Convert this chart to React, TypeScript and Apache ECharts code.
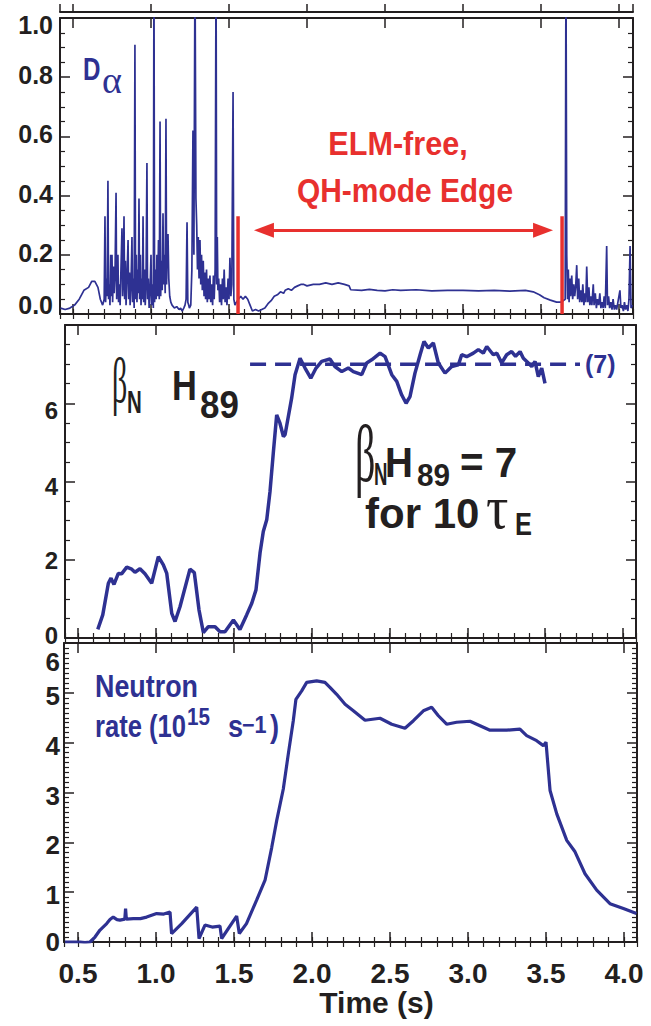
import React, { useEffect, useRef } from "react";
import * as echarts from "echarts";

type Pt = [number, number];

const BLUE = "#2E3192";
const RED = "#E8302E";
const INK = "#231F20";
const SANS = "'Liberation Sans', Arial, Helvetica, sans-serif";
const SERIF = "'Liberation Serif', 'Times New Roman', serif";

// ---------- data (time in s) ----------
const dAlpha: Pt[] = [
  [0.42,0.02],[0.45,0.015],[0.48,0.02],[0.51,0.03],[0.54,0.05],[0.57,0.08],[0.60,0.09],[0.62,0.11],[0.64,0.11],[0.66,0.09],[0.675,0.05],[0.69,0.03],[0.700,0.05],[0.705,0.33],[0.709,0.04],[0.714,0.12],[0.719,0.06],[0.724,0.45],[0.728,0.05],[0.733,0.1],[0.737,0.03],[0.742,0.2],[0.746,0.06],[0.750,0.2],[0.754,0.04],[0.759,0.16],[0.764,0.07],[0.769,0.12],[0.776,0.41],[0.780,0.05],[0.784,0.15],[0.788,0.2],[0.792,0.04],[0.797,0.1],[0.802,0.03],[0.807,0.14],[0.814,0.29],[0.818,0.06],[0.822,0.12],[0.827,0.33],[0.831,0.05],[0.836,0.18],[0.840,0.03],[0.846,0.12],[0.853,0.25],[0.857,0.05],[0.862,0.14],[0.866,0.03],[0.872,0.1],[0.878,0.26],[0.882,0.04],[0.887,0.12],[0.892,0.02],[0.897,0.91],[0.901,0.05],[0.906,0.2],[0.910,0.04],[0.915,0.15],[0.919,0.07],[0.923,0.39],[0.927,0.05],[0.932,0.2],[0.936,0.03],[0.941,0.12],[0.945,0.05],[0.949,0.33],[0.953,0.04],[0.958,0.15],[0.963,0.03],[0.968,0.1],[0.974,0.51],[0.978,0.05],[0.983,0.12],[0.988,0.02],[0.994,0.08],[1.000,0.2],[1.004,0.03],[1.010,0.1],[1.015,0.02],[1.019,1.2],[1.023,0.04],[1.028,0.15],[1.033,0.05],[1.038,0.2],[1.043,0.06],[1.048,0.25],[1.053,0.05],[1.058,0.65],[1.062,0.06],[1.067,0.18],[1.072,0.08],[1.077,0.34],[1.081,0.1],[1.086,0.2],[1.091,0.07],[1.096,0.66],[1.100,0.1],[1.104,0.22],[1.109,0.27],[1.114,0.12],[1.120,0.06],[1.127,0.04],[1.135,0.03],[1.15,0.02],[1.165,0.025],[1.18,0.015],[1.19,0.02],[1.20,0.01],[1.21,0.02],[1.218,0.03],[1.225,0.05],[1.231,0.31],[1.236,0.04],[1.242,0.03],[1.246,0.02],[1.25,0.02],[1.255,0.03],[1.262,0.15],[1.269,0.62],[1.275,0.2],[1.282,1.2],[1.288,0.39],[1.293,0.3],[1.298,0.15],[1.303,0.26],[1.308,0.12],[1.314,0.25],[1.319,0.1],[1.324,0.2],[1.329,0.08],[1.335,0.18],[1.34,0.06],[1.345,0.14],[1.35,0.05],[1.356,0.15],[1.361,0.04],[1.367,0.12],[1.372,0.05],[1.378,0.13],[1.383,0.04],[1.389,0.1],[1.395,0.03],[1.40,0.13],[1.405,0.05],[1.411,0.15],[1.417,1.2],[1.421,0.1],[1.425,0.26],[1.429,0.08],[1.434,0.12],[1.44,0.04],[1.446,0.1],[1.452,0.03],[1.458,0.12],[1.463,0.05],[1.469,0.15],[1.475,0.04],[1.481,0.09],[1.487,0.03],[1.494,0.12],[1.5,0.05],[1.506,0.19],[1.512,0.06],[1.518,0.1],[1.526,0.75],[1.531,0.05],[1.538,0.03],[1.548,0.04],[1.56,0.05],[1.575,0.06],[1.59,0.05],[1.605,0.06],[1.62,0.05],[1.635,0.03],[1.65,0.01],[1.67,0.015],[1.69,0.01],[1.71,0.015],[1.73,0.02],[1.75,0.035],[1.77,0.045],[1.79,0.06],[1.81,0.065],[1.83,0.075],[1.85,0.07],[1.86,0.08],[1.88,0.085],[1.9,0.08],[1.92,0.09],[1.94,0.095],[1.96,0.1],[1.98,0.1],[2.0,0.095],[2.04,0.1],[2.08,0.1],[2.12,0.105],[2.16,0.1],[2.2,0.105],[2.24,0.1],[2.27,0.095],[2.28,0.082],[2.35,0.08],[2.4,0.083],[2.45,0.08],[2.5,0.078],[2.55,0.082],[2.6,0.08],[2.7,0.082],[2.8,0.078],[2.9,0.08],[3.0,0.08],[3.1,0.078],[3.2,0.08],[3.3,0.077],[3.4,0.08],[3.45,0.075],[3.49,0.065],[3.52,0.055],[3.56,0.047],[3.6,0.04],[3.63,0.04],[3.655,0.05],[3.66,1.2],[3.665,0.2],[3.67,0.05],[3.675,0.15],[3.68,0.04],[3.685,0.12],[3.69,0.06],[3.697,0.13],[3.703,0.05],[3.71,0.1],[3.716,0.06],[3.722,0.09],[3.729,0.165],[3.735,0.05],[3.742,0.12],[3.748,0.04],[3.755,0.08],[3.762,0.04],[3.768,0.1],[3.775,0.03],[3.781,0.07],[3.787,0.04],[3.793,0.16],[3.8,0.04],[3.807,0.09],[3.813,0.03],[3.82,0.06],[3.826,0.03],[3.835,0.1],[3.84,0.03],[3.848,0.07],[3.855,0.02],[3.862,0.05],[3.87,0.03],[3.877,0.07],[3.884,0.02],[3.89,0.04],[3.898,0.02],[3.905,0.06],[3.912,0.02],[3.921,0.23],[3.926,0.03],[3.933,0.06],[3.94,0.02],[3.948,0.04],[3.955,0.015],[3.962,0.05],[3.97,0.015],[3.978,0.03],[3.985,0.015],[3.993,0.04],[4.006,0.08],[4.012,0.02],[4.02,0.03],[4.028,0.01],[4.035,0.04],[4.042,0.015],[4.05,0.03],[4.057,0.01],[4.064,0.05],[4.071,0.23],[4.077,0.02],[4.085,0.03]
];

const elmFreeStartMark: Pt[] = [[1.558, 0], [1.558, 0.33]];
const elmFreeEndMark: Pt[] = [[3.635, 0], [3.635, 0.33]];
const elmFreeArrow: Pt[] = [[1.724, 0.283], [3.513, 0.283]];

const betaNH89: Pt[] = [
  [0.627,0.22],[0.659,0.59],[0.695,1.4],[0.712,1.53],[0.731,1.37],[0.759,1.65],[0.78,1.64],[0.813,1.81],[0.845,1.76],[0.866,1.68],[0.898,1.77],[0.93,1.64],[0.973,1.4],[1.016,2.08],[1.048,1.87],[1.07,1.65],[1.102,0.63],[1.123,0.42],[1.155,0.8],[1.219,1.76],[1.247,1.67],[1.277,0.72],[1.305,0.14],[1.337,0.29],[1.38,0.29],[1.412,0.16],[1.444,0.16],[1.498,0.46],[1.54,0.22],[1.583,0.59],[1.616,0.89],[1.643,1.23],[1.669,2.17],[1.69,2.72],[1.712,3.02],[1.733,3.74],[1.754,4.72],[1.776,5.70],[1.797,5.49],[1.819,5.15],[1.83,5.2],[1.872,6.13],[1.894,6.73],[1.926,7.15],[1.958,6.9],[1.995,6.64],[2.029,6.9],[2.065,7.07],[2.118,7.13],[2.15,6.94],[2.194,6.81],[2.236,6.9],[2.268,6.81],[2.322,6.73],[2.354,7.03],[2.386,7.11],[2.44,7.28],[2.472,7.19],[2.515,6.73],[2.547,6.56],[2.579,6.21],[2.607,6.0],[2.632,6.17],[2.664,6.77],[2.697,7.24],[2.722,7.58],[2.75,7.41],[2.782,7.54],[2.814,7.03],[2.857,6.77],[2.9,6.94],[2.943,6.98],[2.964,7.24],[2.996,7.19],[3.039,7.28],[3.071,7.37],[3.103,7.28],[3.125,7.45],[3.167,7.24],[3.19,7.28],[3.221,7.03],[3.253,7.24],[3.285,7.32],[3.31,7.2],[3.339,7.32],[3.36,7.15],[3.392,7.03],[3.414,6.94],[3.435,7.07],[3.456,6.68],[3.478,6.9],[3.499,6.51]
];
const betaTarget: Pt[] = [[1.605, 7], [3.724, 7]];

const neutronRate: Pt[] = [
  [0.417,0.0],[0.513,0.0],[0.545,-0.01],[0.577,0.0],[0.609,0.1],[0.641,0.24],[0.684,0.37],[0.705,0.45],[0.726,0.5],[0.75,0.45],[0.769,0.44],[0.80,0.46],[0.805,0.67],[0.81,0.46],[0.855,0.47],[0.9,0.47],[0.94,0.5],[1.004,0.57],[1.05,0.56],[1.09,0.6],[1.10,0.17],[1.165,0.37],[1.261,0.7],[1.276,0.07],[1.314,0.34],[1.36,0.3],[1.41,0.32],[1.421,0.07],[1.517,0.52],[1.534,0.17],[1.58,0.37],[1.645,0.84],[1.699,1.24],[1.742,1.9],[1.774,2.44],[1.816,3.07],[1.848,3.77],[1.88,4.44],[1.897,4.87],[1.934,5.04],[1.966,5.21],[2.03,5.24],[2.083,5.21],[2.115,5.11],[2.158,4.97],[2.212,4.77],[2.265,4.64],[2.34,4.45],[2.436,4.49],[2.511,4.37],[2.596,4.29],[2.65,4.44],[2.714,4.64],[2.767,4.71],[2.81,4.54],[2.863,4.37],[2.927,4.41],[3.013,4.43],[3.077,4.34],[3.141,4.25],[3.248,4.25],[3.333,4.27],[3.376,4.14],[3.44,4.04],[3.483,3.94],[3.5,4.01],[3.526,3.04],[3.569,2.57],[3.633,2.04],[3.686,1.81],[3.75,1.37],[3.825,1.04],[3.91,0.77],[3.996,0.67],[4.08,0.57]
];

// axis ranges
const xRangeTop = [0.4167, 4.0897];
const xRangeMid = [0.4165, 4.0835];
const xRangeBot = [0.4103, 4.0833];
const yRangeDAlpha = [0, 1];
const yRangeBeta = [0, 8];
const yRangeNeutron = [0, 6];

// ---------- helpers ----------
function richFor(size: number) {
  const rich: any = {};
  for (let d = -25; d <= 25; d++) {
    const key = d >= 0 ? "d" + d : "u" + -d;
    rich[key] = {
      fontFamily: SANS, fontWeight: "bold", fontSize: size, color: INK,
      padding: d >= 0 ? [2 * d, 0, 0, 0] : [0, 0, -2 * d, 0],
    };
  }
  return rich;
}
function shiftedLabel(fmt: (v: number) => string, shift: (v: number) => number, size: number, margin: number) {
  return {
    show: true, margin, color: INK, fontFamily: SANS, fontWeight: "bold", fontSize: size,
    formatter: (v: number) => {
      const s = fmt(v);
      if (!s) return "";
      const d = Math.round(shift(v));
      const key = d >= 0 ? "d" + d : "u" + -d;
      return `{${key}|${s}}`;
    },
    rich: richFor(size),
  };
}

function majorX(gridIndex: number, range: number[], position: string, labels: boolean, tickLen = 10) {
  return {
    type: "value", gridIndex, position, min: range[0], max: range[1], splitNumber: 7,
    axisLine: { show: true, onZero: false, lineStyle: { color: INK, width: 2 } },
    axisTick: { show: true, inside: true, length: tickLen, lineStyle: { color: INK, width: 1.5 } },
    axisLabel: labels
      ? {
          show: true, margin: 17, color: INK, fontFamily: SANS, fontWeight: "bold", fontSize: 28,
          formatter: (v: number) => (Math.abs(v * 2 - Math.round(v * 2)) < 1e-6 ? v.toFixed(1) : ""),
        }
      : { show: false },
    splitLine: { show: false },
  };
}
function minorX(gridIndex: number, range: number[], position: string) {
  return {
    type: "value", gridIndex, position, min: range[0], max: range[1], splitNumber: 37,
    axisLine: { show: false },
    axisTick: { show: true, inside: true, length: 5, lineStyle: { color: INK, width: 1.2 } },
    axisLabel: { show: false },
    splitLine: { show: false },
  };
}
function yAx(gridIndex: number, range: number[], interval: number, minorSplit: number, position: string, label: any) {
  return {
    type: "value", gridIndex, position, min: range[0], max: range[1], interval,
    axisLine: { show: true, onZero: false, lineStyle: { color: INK, width: 2 } },
    axisTick: { show: true, inside: true, length: 10, lineStyle: { color: INK, width: 1.5 } },
    minorTick: { show: true, splitNumber: minorSplit, length: 5, lineStyle: { color: INK, width: 1.2 } },
    axisLabel: label || { show: false },
    splitLine: { show: false },
    minorSplitLine: { show: false },
  };
}

function txt(text: string, x: number, baseline: number, size: number, o: any = {}) {
  const serif = !!o.serif;
  const central = serif ? 0.3375 : 0.3465;
  return {
    type: "text", x, y: baseline - central * size, scaleX: o.scaleX ?? 1, z: 100,
    style: {
      text, fontSize: size, fontFamily: serif ? SERIF : SANS,
      fontWeight: o.bold === false || serif ? "normal" : "bold",
      fill: o.color || INK, align: o.align || "left", verticalAlign: "middle",
    },
  };
}

export default function App() {
  const ref = useRef<HTMLDivElement>(null);
  useEffect(() => {
    document.body.style.margin = "0";
    const chart = echarts.init(ref.current!, undefined, { renderer: "svg" });

    const grid = [
      { left: 60, top: 0, width: 573, height: 12 },
      { left: 60, top: 18, width: 573, height: 296 },
      { left: 65, top: 325, width: 571, height: 313 },
      { left: 64, top: 643, width: 573, height: 299 },
    ];

    const xAxis: any[] = [
      majorX(0, xRangeTop, "bottom", false, 8), // 0
      majorX(1, xRangeTop, "bottom", false), // 1
      minorX(1, xRangeTop, "bottom"),
      majorX(1, xRangeTop, "top", false),
      minorX(1, xRangeTop, "top"),
      majorX(2, xRangeMid, "bottom", false), // 5
      minorX(2, xRangeMid, "bottom"),
      majorX(2, xRangeMid, "top", false),
      minorX(2, xRangeMid, "top"),
      {
        ...majorX(3, xRangeBot, "bottom", true), // 9
        name: "Time (s)", nameLocation: "middle", nameGap: 42,
        nameTextStyle: { color: INK, fontFamily: SANS, fontWeight: "bold", fontSize: 30, padding: [0, 0, 0, 52] },
      },
      minorX(3, xRangeBot, "bottom"),
      majorX(3, xRangeBot, "top", false),
      minorX(3, xRangeBot, "top"),
    ];

    const yAxis: any[] = [
      { type: "value", gridIndex: 0, show: false, min: 0, max: 1 }, // 0
      yAx(1, yRangeDAlpha, 0.2, 4, "left",
        shiftedLabel((v) => v.toFixed(1), (v) => (v > 0.99 ? 7 : v < 0.01 ? -9 : -2), 25, 7)), // 1
      yAx(1, yRangeDAlpha, 0.2, 4, "right", null),
      yAx(2, yRangeBeta, 2, 4, "left",
        shiftedLabel((v) => (v > 7.5 ? "" : String(v)), (v) => (v === 0 ? -3 : v === 2 ? 1 : v === 4 ? 5 : 7), 24, 7)), // 3
      yAx(2, yRangeBeta, 2, 4, "right", null),
      yAx(3, yRangeNeutron, 1, 10, "left",
        shiftedLabel((v) => String(v), (v) => (v === 0 ? 0 : v === 6 ? 19 : 3), 26, 4)), // 5
      yAx(3, yRangeNeutron, 1, 10, "right", null),
    ];

    const series: any[] = [
      {
        type: "line", name: "Dα", xAxisIndex: 1, yAxisIndex: 1, data: dAlpha,
        symbol: "none", lineStyle: { color: BLUE, width: 1.7 }, clip: true, z: 3,
      },
      {
        type: "line", name: "ELM-free start", xAxisIndex: 1, yAxisIndex: 1, data: elmFreeStartMark,
        symbol: "none", lineStyle: { color: RED, width: 3.5 }, z: 4,
      },
      {
        type: "line", name: "ELM-free end", xAxisIndex: 1, yAxisIndex: 1, data: elmFreeEndMark,
        symbol: "none", lineStyle: { color: RED, width: 3.5 }, z: 4,
        markLine: {
          silent: true, symbol: ["triangle", "triangle"], symbolSize: [15, 20],
          lineStyle: { color: RED, width: 3, type: "solid" }, label: { show: false },
          data: [[{ coord: elmFreeArrow[0] }, { coord: elmFreeArrow[1] }]],
        },
      },
      {
        type: "line", name: "target", xAxisIndex: 5, yAxisIndex: 3, data: betaTarget,
        symbol: "none", lineStyle: { color: BLUE, width: 3.5, type: [16, 9] }, z: 2,
        endLabel: {
          show: true, formatter: "(7)", distance: 5, color: BLUE,
          fontFamily: SANS, fontWeight: "bold", fontSize: 25,
        },
      },
      {
        type: "line", name: "βN H89", xAxisIndex: 5, yAxisIndex: 3, data: betaNH89,
        symbol: "none", lineStyle: { color: BLUE, width: 3.5 }, z: 3,
      },
      {
        type: "line", name: "Neutron rate", xAxisIndex: 9, yAxisIndex: 5, data: neutronRate,
        symbol: "none", lineStyle: { color: BLUE, width: 3.2 }, z: 3,
      },
    ];

    const graphic: any[] = [
      // D alpha
      txt("D", 83, 80, 31, { color: BLUE, scaleX: 0.78 }),
      txt("α", 102, 93, 38, { serif: true, color: BLUE }),
      // ELM-free text
      txt("ELM-free,", 398, 155, 34, { color: RED, align: "center", scaleX: 0.9 }),
      txt("QH-mode Edge", 405, 202, 34, { color: RED, align: "center", scaleX: 0.88 }),
      // left beta label
      txt("β", 112, 402, 64, { serif: true, scaleX: 0.47 }),
      txt("N", 127, 413, 31, { scaleX: 0.66 }),
      txt("H", 172, 400, 43, { scaleX: 0.8 }),
      txt("89", 200, 418, 38, { scaleX: 0.92 }),
      // big text
      txt("β", 355, 481, 80, { serif: true, scaleX: 0.5 }),
      txt("N", 374, 485, 32, { scaleX: 0.58 }),
      txt("H", 385, 477, 42, { scaleX: 0.92 }),
      txt("89", 417, 486, 32, { scaleX: 0.93 }),
      txt("= 7", 460, 477, 42, { scaleX: 0.96 }),
      txt("for 10", 365, 528, 42),
      txt("τ", 486, 528, 62, { serif: true, scaleX: 0.9 }),
      txt("E", 515, 535, 31, { scaleX: 0.82 }),
      // neutron
      txt("Neutron", 95, 697, 32, { color: BLUE, scaleX: 0.84 }),
      txt("rate (10", 95, 737, 32, { color: BLUE, scaleX: 0.8 }),
      txt("15", 187, 725, 24, { color: BLUE, scaleX: 0.86 }),
      txt("s", 228, 737, 32, { color: BLUE, scaleX: 0.85 }),
      txt("−1", 242, 733, 24, { color: BLUE, scaleX: 0.9 }),
      txt(")", 270, 737, 32, { color: BLUE, scaleX: 0.85 }),
    ];

    chart.setOption({
      animation: false,
      backgroundColor: "#ffffff",
      grid,
      xAxis,
      yAxis,
      series,
      graphic,
    });
    return () => chart.dispose();
  }, []);
  return (
    <div
      ref={ref}
      style={{ position: "fixed", left: 0, top: 0, width: 651, height: 1026, background: "#fff" }}
    />
  );
}
